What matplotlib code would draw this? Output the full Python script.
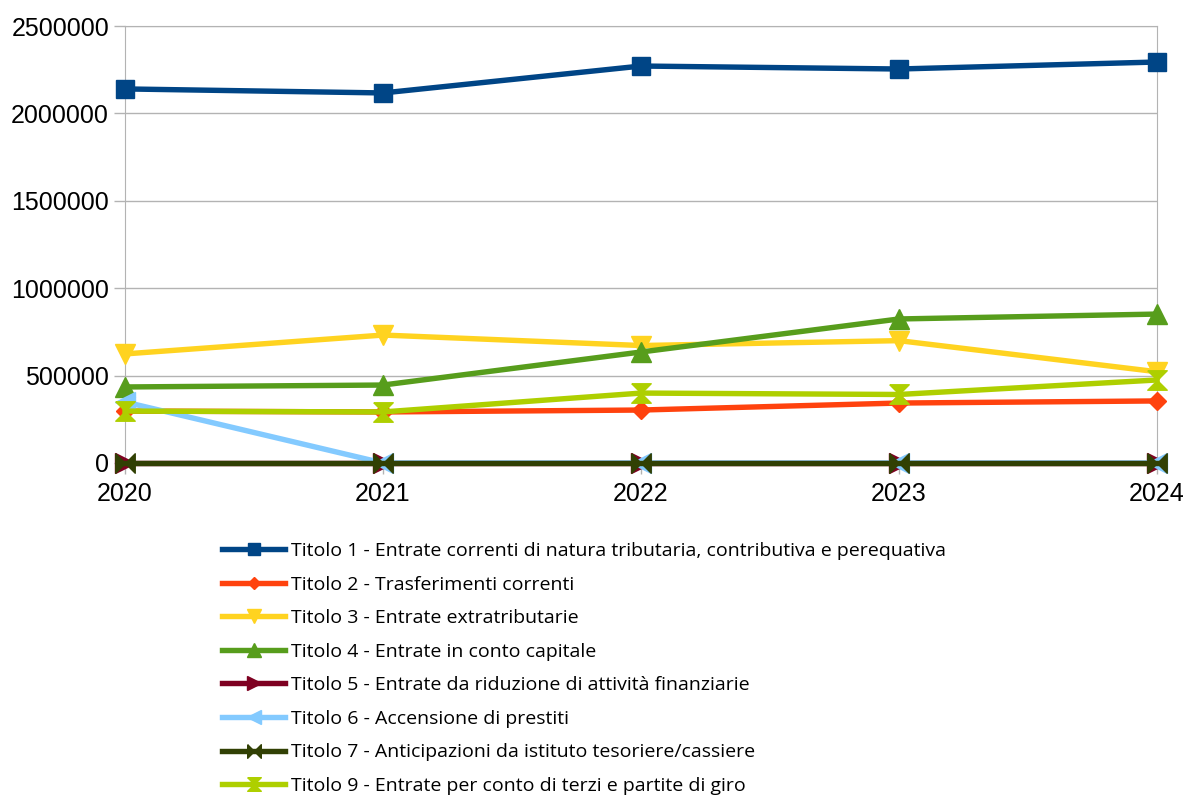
import matplotlib.pyplot as plt
from matplotlib.lines import Line2D

years = [2020, 2021, 2022, 2023, 2024]

titolo1 = [2140000, 2117000, 2271000, 2254000, 2294000]
titolo2 = [297000, 292000, 303000, 343000, 355000]
titolo3 = [624000, 732000, 672000, 700000, 522000]
titolo4 = [435000, 446000, 635000, 824000, 852000]
titolo5 = [0, 0, 0, 0, 0]
titolo6 = [349000, 0, 0, 0, 0]
titolo7 = [0, 0, 0, 0, 0]
titolo9 = [297000, 292000, 400000, 392000, 475000]

labels = [
    "Titolo 1 - Entrate correnti di natura tributaria, contributiva e perequativa",
    "Titolo 2 - Trasferimenti correnti",
    "Titolo 3 - Entrate extratributarie",
    "Titolo 4 - Entrate in conto capitale",
    "Titolo 5 - Entrate da riduzione di attività finanziarie",
    "Titolo 6 - Accensione di prestiti",
    "Titolo 7 - Anticipazioni da istituto tesoriere/cassiere",
    "Titolo 9 - Entrate per conto di terzi e partite di giro",
]

# custom bowtie markers (LibreOffice style)
hbowtie = [(-1, 1), (-1, -1), (1, 1), (1, -1), (-1, 1)]
vbowtie = [(-1, 1), (1, 1), (-1, -1), (1, -1), (-1, 1)]

series = [
    (titolo1, "#004586", "s", 13),
    (titolo2, "#ff420e", "D", 9),
    (titolo3, "#ffd320", "v", 14),
    (titolo4, "#579d1c", "^", 14),
    (titolo5, "#7e0021", ">", 14),
    (titolo6, "#83caff", "<", 14),
    (titolo7, "#314004", hbowtie, 14),
    (titolo9, "#aecf00", vbowtie, 14),
]

fig = plt.figure(figsize=(11.84, 7.96), dpi=100)
ax = fig.add_axes([125 / 1184, 1 - 463 / 796, 1032 / 1184, 437 / 796])

handles = []
for (vals, color, marker, ms), label in zip(series, labels):
    ax.plot(years, vals, color=color, lw=3.9, marker=marker, ms=ms,
            clip_on=False, zorder=3)
    handles.append(Line2D([], [], color=color, lw=3.9, marker=marker,
                          ms=ms * 0.7, label=label))

ax.set_xlim(2020, 2024)
ax.set_ylim(0, 2500000)
ax.set_xticks(years)
ax.set_yticks(range(0, 2500001, 500000))
ax.set_yticklabels([str(v) for v in range(0, 2500001, 500000)])
ax.grid(axis="y", color="#b3b3b3", lw=1)
ax.set_axisbelow(True)
for s in ax.spines.values():
    s.set_color("#b3b3b3")
ax.tick_params(axis="both", colors="#b3b3b3", labelcolor="black",
               labelsize=18, length=8, width=1)
ax.tick_params(axis="x", pad=6)
for t in ax.get_xticklabels() + ax.get_yticklabels():
    t.set_family("Liberation Sans")

leg = fig.legend(handles=handles, loc="upper left",
                 bbox_to_anchor=(222 / 1184, 1 - 542 / 796),
                 frameon=False, handlelength=3.25, handletextpad=0.3,
                 labelspacing=0.8, borderaxespad=0, borderpad=0,
                 prop={"family": "Open Sans", "size": 14})

fig.savefig("out.png", dpi=100)
